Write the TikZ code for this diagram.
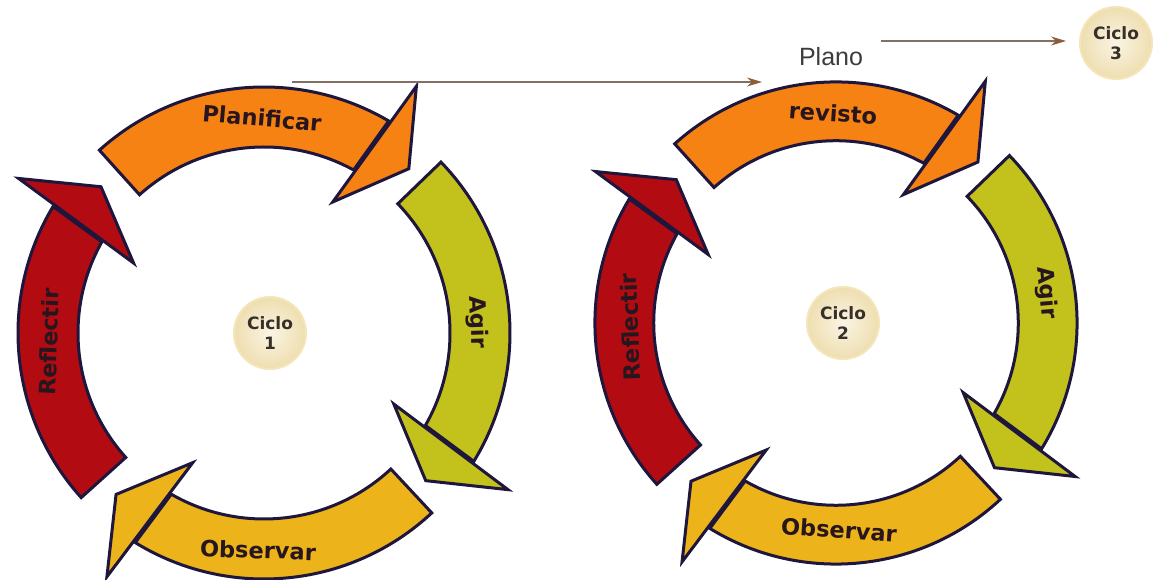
\documentclass[tikz,border=0pt]{standalone}
\usepackage{fontspec}
\newfontfamily\labfont{DejaVu Sans}
\newfontfamily\planofont{Liberation Sans}
\usetikzlibrary{arrows.meta}
\definecolor{cOrange}{RGB}{246,130,20}
\definecolor{cOlive}{RGB}{195,193,28}
\definecolor{cGold}{RGB}{236,180,26}
\definecolor{cRed}{RGB}{178,12,18}
\definecolor{cOutline}{RGB}{30,22,60}
\definecolor{cLab}{RGB}{40,22,30}
\definecolor{cCiIn}{RGB}{250,244,228}
\definecolor{cCiOut}{RGB}{238,222,176}
\definecolor{cCiEdge}{RGB}{244,230,185}
\definecolor{cCiText}{RGB}{55,48,40}
\definecolor{cLine}{RGB}{130,112,100}
\definecolor{cTip}{RGB}{140,92,55}
\definecolor{cPlano}{RGB}{60,60,60}
\def\cyRo{246}
\def\cyRi{186}
\newcommand\cyarrow[3]{%
  \filldraw[arrowline,fill=#1] (#2:\cyRo) arc[start angle=#2,end angle={#3+1.24},radius=\cyRo]
    -- ({#3+2.9}:\cyRi) arc[start angle={#3+2.9},end angle=#2,radius=\cyRi] -- cycle;
  \filldraw[arrowline,fill=#1] (#3:290) -- ({#3-9.7}:219) -- ({#3+4}:148) -- cycle;}
\newcommand\cyring{%
  \cyarrow{cOrange}{132}{58.3}
  \cyarrow{cOlive}{44}{-32.7}
  \cyarrow{cGold}{-47}{-122.8}
  \cyarrow{cRed}{222}{147.8}}
\begin{document}
\begin{tikzpicture}[x=1pt,y=1pt,
  arrowline/.style={draw=cOutline,line width=3pt,line join=miter},
  lab/.style={font=\labfont\bfseries\fontsize{22.5}{26}\selectfont,text=cLab,inner sep=0pt},
  ciclo/.style={circle,minimum size=72pt,inner sep=0pt,shading=radial,inner color=cCiIn,outer color=cCiOut,
    draw=cCiEdge,line width=2pt,align=center,font=\labfont\bfseries\fontsize{17}{20}\selectfont,text=cCiText},
  conn/.style={draw=cLine,line width=1.3pt,-{Stealth[length=15pt,width=9pt,color=cTip]}}]
\fill[white] (0,0) rectangle (1159,580);
\useasboundingbox (0,0) rectangle (1159,580);
% cycle 1
\begin{scope}[shift={(264,247)}]
  \cyring
\end{scope}
% cycle 2
\begin{scope}[shift={(836,257)},scale=0.98]
  \cyring
\end{scope}
% labels cycle 1
\node[lab,rotate=-5] (plan1) at (262,462) {Planificar};
\node[lab,rotate=-88] (agir1) at (477,258) {Agir};
\node[lab,rotate=-2] (obs1) at (258,30) {Observar};
\node[lab,rotate=88] (refl1) at (49,238) {Reflectir};
% labels cycle 2
\node[lab,rotate=-4] (plan2) at (833,467) {revisto};
\node[lab,rotate=-85] (agir2) at (1046,287) {Agir};
\node[lab,rotate=-4] (obs2) at (839,50) {Observar};
\node[lab,rotate=92] (refl2) at (630,253) {Reflectir};
% cycle centres
\node[ciclo] (c1) at (270,247) {Ciclo\\1};
\node[ciclo] (c2) at (843,257) {Ciclo\\2};
\node[ciclo] (c3) at (1116,537) {Ciclo\\3};
% Plano
\node[font=\planofont\fontsize{25}{30}\selectfont,text=cPlano,inner sep=0pt] (plano) at (831,523) {Plano};
\coordinate (l1s) at (292,498);
\coordinate (l1e) at (762,498);
\draw[conn] (l1s) -- (l1e);
\coordinate (l2s) at (881,539);
\draw[conn,shorten >=13pt] (l2s) -- (l2s -| c3.west);
\end{tikzpicture}
\end{document}
